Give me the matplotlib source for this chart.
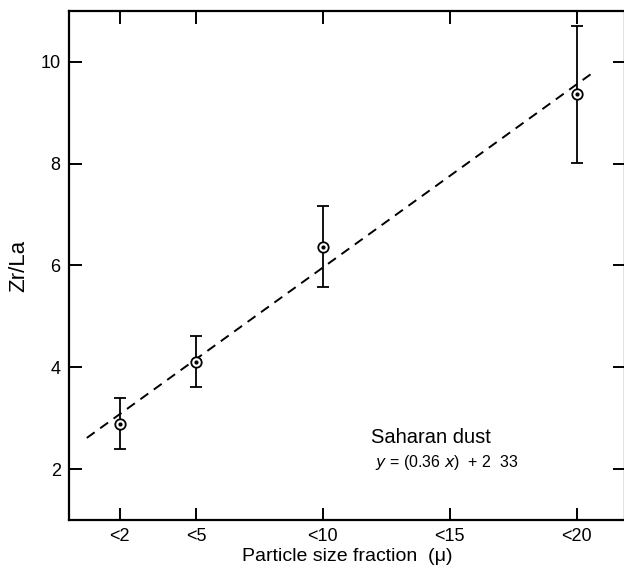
import numpy as np
import matplotlib
matplotlib.use("Agg")
import matplotlib.pyplot as plt

# particle size fractions (upper bound, microns) and Zr/La ratios
size_fraction = [2, 5, 10, 20]
size_labels = ["<2", "<5", "<10", "<15", "<20"]
size_ticks = [2, 5, 10, 15, 20]
zr_la = [2.88, 4.10, 6.37, 9.36]
err_low = [2.40, 3.62, 5.57, 8.01]
err_high = [3.40, 4.62, 7.17, 10.70]

# regression line
slope = 0.36
intercept = 2.36
fit_range = [0.7, 20.65]

plt.rcParams["font.family"] = ["Liberation Sans", "DejaVu Sans"]

fig = plt.figure(figsize=(6.24, 5.73), dpi=100)
ax = fig.add_axes([69 / 624, 53 / 573, 556 / 624, 509 / 573])

x = np.array(size_fraction)
y = np.array(zr_la)
yerr = [y - np.array(err_low), np.array(err_high) - y]

ax.errorbar(x, y, yerr=yerr, fmt="none", ecolor="black", elinewidth=1.3,
            capsize=4, capthick=1.3, zorder=2)
ax.plot(x, y, "o", ms=7.5, mfc="white", mec="black", mew=1.3, zorder=3)
ax.plot(x, y, "o", ms=2, color="black", zorder=4)

fx = np.array(fit_range)
ax.plot(fx, slope * fx + intercept, "--", color="black", lw=1.4,
        dashes=(5, 3.5), zorder=1)

ax.text(11.9, 2.63, "Saharan dust", fontsize=14.5, va="center")
ax.text(12.05, 2.12, r"$y$ = (0.36 $x$)  + 2  33", fontsize=11.5, va="center")

ax.set_xlim(0, 21.9)
ax.set_ylim(1, 11)
ax.set_xticks(size_ticks)
ax.set_xticklabels(size_labels)
ax.set_yticks([2, 4, 6, 8, 10])
ax.tick_params(direction="in", length=9, width=1.4, top=True, right=True,
               labelsize=13, pad=6)
for s in ax.spines.values():
    s.set_linewidth(1.6)

ax.set_xlabel("Particle size fraction  (\u03bc)", fontsize=14, labelpad=2)
ax.set_ylabel("Zr/La", fontsize=16, labelpad=8)

fig.savefig("out.png", dpi=100)
